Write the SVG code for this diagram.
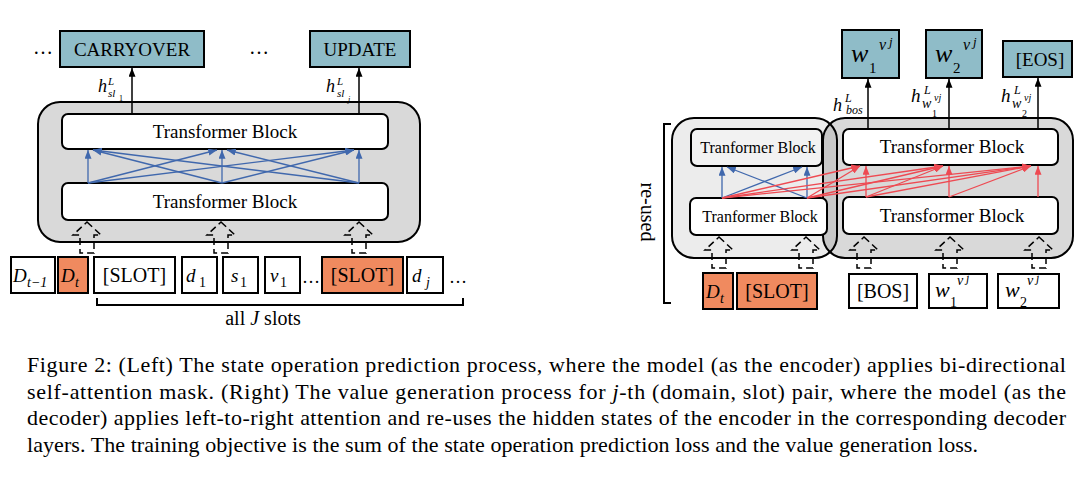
<svg xmlns="http://www.w3.org/2000/svg" width="1081" height="481" viewBox="0 0 1081 481">
<style>
text{font-family:"Liberation Serif","Times New Roman",serif;fill:#000}
.i{font-style:italic}
.mid{text-anchor:middle}
.teal{fill:#8fbcc8;stroke:#000;stroke-width:2}
.or{fill:#f08a5f;stroke:#000;stroke-width:2}
.wh{fill:#fff;stroke:#000;stroke-width:2}
.bl{stroke:#4068ad;stroke-width:1.3;fill:none;marker-end:url(#ab)}
.rd{stroke:#ee4a52;stroke-width:1.3;fill:none;marker-end:url(#ar)}
.up{stroke:#000;stroke-width:1.5;fill:none;marker-end:url(#ak)}
.hol{fill:none;stroke:#000;stroke-width:1.5;stroke-dasharray:7 4}
.cap{font-size:22px}
</style>
<defs>
<marker id="ab" viewBox="0 0 10 8" refX="10" refY="4" markerWidth="9" markerHeight="7" markerUnits="userSpaceOnUse" orient="auto"><path d="M0,0L10,4L0,8z" fill="#4068ad"/></marker>
<marker id="ar" viewBox="0 0 10 8" refX="10" refY="4" markerWidth="9" markerHeight="7" markerUnits="userSpaceOnUse" orient="auto"><path d="M0,0L10,4L0,8z" fill="#ee4a52"/></marker>
<marker id="ak" viewBox="0 0 10 8" refX="10" refY="4" markerWidth="9" markerHeight="7" markerUnits="userSpaceOnUse" orient="auto"><path d="M0,0L10,4L0,8z" fill="#000"/></marker>
<path id="hollow" d="M0,0L14,13L7,13L7,31L-7,31L-7,13L-14,13Z"/>
</defs>

<!-- ===== LEFT ===== -->
<g id="left-encoder">
<rect x="38" y="102" width="382" height="140" rx="22" fill="#d9d9d9" stroke="#000" stroke-width="2"/>
</g>
<g id="left-top-block">
<rect x="62" y="114" width="326" height="35" rx="6" class="wh"/>
<text x="225" y="138" class="mid" font-size="19">Transformer Block</text>
</g>
<g id="left-bottom-block">
<rect x="62" y="183" width="326" height="37" rx="6" class="wh"/>
<text x="225" y="208" class="mid" font-size="19">Transformer Block</text>
</g>

<g id="carryover">
<rect x="60" y="31" width="144" height="36" class="teal"/>
<text x="132" y="56" class="mid" font-size="19">CARRYOVER</text>
</g>
<g id="update">
<rect x="310" y="31" width="100" height="36" class="teal"/>
<text x="360" y="56" class="mid" font-size="19">UPDATE</text>
</g>
<text x="43" y="54" class="mid" font-size="20">…</text>
<text x="259" y="54" class="mid" font-size="20">…</text>

<g id="label-hsl1">
<text class="i"><tspan x="98" y="92" font-size="18">h</tspan><tspan x="108" y="85" font-size="11">L</tspan><tspan x="108" y="97" font-size="11">sl</tspan><tspan x="119" y="101" font-size="8" font-style="normal">1</tspan></text>
</g>
<g id="label-hslj">
<text class="i"><tspan x="326" y="92" font-size="18">h</tspan><tspan x="337" y="85" font-size="11">L</tspan><tspan x="337" y="97" font-size="11">sl</tspan><tspan x="348" y="102" font-size="8">j</tspan></text>
</g>

<!-- left tokens -->
<g id="tok-dt1">
<rect x="11" y="257" width="44" height="36" class="wh"/>
<text class="i"><tspan x="13" y="282" font-size="19">D</tspan><tspan x="27" y="287" font-size="14">t−1</tspan></text>
</g>
<g id="tok-dt">
<rect x="58" y="257" width="30" height="36" class="or"/>
<text class="i"><tspan x="61" y="282" font-size="19">D</tspan><tspan x="75" y="287" font-size="14">t</tspan></text>
</g>
<g id="tok-slot1">
<rect x="94" y="257" width="81" height="36" class="wh"/>
<text x="134.5" y="282" class="mid" font-size="20">[SLOT]</text>
</g>
<g id="tok-d1">
<rect x="182" y="257" width="35" height="36" class="wh"/>
<text><tspan x="186" y="282" font-size="19" class="i">d</tspan><tspan x="199" y="287" font-size="14">1</tspan></text>
</g>
<g id="tok-s1">
<rect x="223" y="257" width="35" height="36" class="wh"/>
<text><tspan x="231" y="282" font-size="19" class="i">s</tspan><tspan x="240" y="287" font-size="14">1</tspan></text>
</g>
<g id="tok-v1">
<rect x="265" y="257" width="35" height="36" class="wh"/>
<text><tspan x="270" y="282" font-size="19" class="i">v</tspan><tspan x="280" y="287" font-size="14">1</tspan></text>
</g>
<text x="311" y="283" class="mid" font-size="18">…</text>
<g id="tok-slotj">
<rect x="322" y="257" width="81" height="36" class="or"/>
<text x="362.5" y="282" class="mid" font-size="20">[SLOT]</text>
</g>
<g id="tok-dj">
<rect x="407" y="257" width="36" height="36" class="wh"/>
<text class="i"><tspan x="412" y="282" font-size="19">d</tspan><tspan x="426" y="287" font-size="14">j</tspan></text>
</g>
<text x="458" y="283" class="mid" font-size="18">…</text>
<g id="all-slots">
<path d="M97,298V305H463V298" fill="none" stroke="#000" stroke-width="2"/>
<text x="263" y="325" class="mid" font-size="20">all <tspan class="i">J</tspan> slots</text>
</g>

<!-- ===== RIGHT ===== -->
<g id="reused">
<path d="M671,124H664V303H671" fill="none" stroke="#000" stroke-width="2"/>
<text transform="translate(648,212) rotate(90)" class="mid" dominant-baseline="central" font-size="20">re-used</text>
</g>
<g id="encoder">
<rect x="672" y="118" width="165" height="140" rx="22" fill="#ececec" stroke="#000" stroke-width="2"/>
</g>
<g id="decoder">
<rect x="823" y="118" width="250" height="140" rx="22" fill="#000" fill-opacity="0.15" stroke="#000" stroke-width="2"/>
</g>
<g id="enc-top-block">
<rect x="691" y="129" width="131" height="37" rx="6" fill="#f2f2f2" stroke="#000" stroke-width="2"/>
<text x="758" y="153" class="mid" font-size="16">Tranformer Block</text>
</g>
<g id="enc-bottom-block">
<rect x="690" y="198" width="137" height="37" rx="6" class="wh"/>
<text x="760" y="222" class="mid" font-size="16">Tranformer Block</text>
</g>
<g id="dec-top-block">
<rect x="843" y="129" width="215" height="36" rx="6" class="wh"/>
<text x="952" y="153" class="mid" font-size="19">Transformer Block</text>
</g>
<g id="dec-bottom-block">
<rect x="843" y="197" width="215" height="37" rx="6" class="wh"/>
<text x="952" y="222" class="mid" font-size="19">Transformer Block</text>
</g>

<g id="out-w1">
<rect x="842" y="30" width="57" height="48" class="teal"/>
<text class="i"><tspan x="851" y="62" font-size="26">w</tspan><tspan x="869" y="73" font-size="15" font-style="normal">1</tspan><tspan x="879" y="50" font-size="16">v</tspan><tspan x="889" y="46" font-size="13">j</tspan></text>
</g>
<g id="out-w2">
<rect x="926" y="30" width="56" height="48" class="teal"/>
<text class="i"><tspan x="935" y="62" font-size="26">w</tspan><tspan x="953" y="73" font-size="15" font-style="normal">2</tspan><tspan x="963" y="50" font-size="16">v</tspan><tspan x="973" y="46" font-size="13">j</tspan></text>
</g>
<g id="out-eos">
<rect x="1003" y="41" width="69" height="36" class="teal"/>
<text x="1040" y="66" class="mid" font-size="19">[EOS]</text>
</g>

<g id="label-hbos">
<text class="i"><tspan x="833" y="111" font-size="18">h</tspan><tspan x="845" y="102" font-size="12">L</tspan><tspan x="846" y="114" font-size="12">bos</tspan></text>
</g>
<g id="label-hw1">
<text class="i"><tspan x="911" y="102" font-size="19">h</tspan><tspan x="924" y="94" font-size="12">L</tspan><tspan x="922" y="108" font-size="14">w</tspan><tspan x="934" y="101" font-size="10">vj</tspan><tspan x="932" y="117" font-size="10" font-style="normal">1</tspan></text>
</g>
<g id="label-hw2">
<text class="i"><tspan x="1001" y="102" font-size="19">h</tspan><tspan x="1014" y="94" font-size="12">L</tspan><tspan x="1012" y="108" font-size="14">w</tspan><tspan x="1024" y="101" font-size="10">vj</tspan><tspan x="1022" y="117" font-size="10" font-style="normal">2</tspan></text>
</g>

<!-- right tokens -->
<g id="rtok-dt">
<rect x="703" y="273" width="30" height="36" class="or"/>
<text class="i"><tspan x="706" y="298" font-size="19">D</tspan><tspan x="720" y="303" font-size="14">t</tspan></text>
</g>
<g id="rtok-slot">
<rect x="737" y="273" width="80" height="36" class="or"/>
<text x="777" y="298" class="mid" font-size="20">[SLOT]</text>
</g>
<g id="rtok-bos">
<rect x="849" y="274" width="68" height="34" class="wh"/>
<text x="883" y="298" class="mid" font-size="20">[BOS]</text>
</g>
<g id="rtok-w1">
<rect x="929" y="274" width="58" height="34" class="wh"/>
<text class="i"><tspan x="935" y="297" font-size="22">w</tspan><tspan x="950" y="307" font-size="14" font-style="normal">1</tspan><tspan x="957" y="285" font-size="14">v</tspan><tspan x="966" y="282" font-size="12">j</tspan></text>
</g>
<g id="rtok-w2">
<rect x="998" y="274" width="61" height="34" class="wh"/>
<text class="i"><tspan x="1005" y="297" font-size="22">w</tspan><tspan x="1020" y="307" font-size="14" font-style="normal">2</tspan><tspan x="1027" y="285" font-size="14">v</tspan><tspan x="1036" y="282" font-size="12">j</tspan></text>
</g>

<!-- ===== CONNECTORS ===== -->
<g id="connectors">
<line x1="132" y1="114" x2="132" y2="68" class="up"/>
<line x1="359" y1="114" x2="359" y2="68" class="up"/>
<line x1="88" y1="183" x2="88" y2="150" class="bl"/>
<line x1="222" y1="183" x2="222" y2="150" class="bl"/>
<line x1="359" y1="183" x2="359" y2="150" class="bl"/>
<line x1="88" y1="183" x2="217" y2="150" class="bl"/>
<line x1="88" y1="183" x2="354" y2="150" class="bl"/>
<line x1="222" y1="183" x2="93" y2="150" class="bl"/>
<line x1="222" y1="183" x2="354" y2="150" class="bl"/>
<line x1="359" y1="183" x2="93" y2="150" class="bl"/>
<line x1="359" y1="183" x2="227" y2="150" class="bl"/>
<use href="#hollow" x="87" y="222" class="hol"/>
<use href="#hollow" x="221" y="222" class="hol"/>
<use href="#hollow" x="359" y="222" class="hol"/>

<line x1="868" y1="129" x2="868" y2="79" class="up"/>
<line x1="949" y1="129" x2="949" y2="79" class="up"/>
<line x1="1038" y1="129" x2="1038" y2="78" class="up"/>
<line x1="722" y1="198" x2="722" y2="167" class="bl"/>
<line x1="807" y1="198" x2="807" y2="167" class="bl"/>
<line x1="722" y1="198" x2="802" y2="167" class="bl"/>
<line x1="807" y1="198" x2="727" y2="167" class="bl"/>
<line x1="722" y1="198" x2="860" y2="166" class="rd"/>
<line x1="722" y1="198" x2="943" y2="166" class="rd"/>
<line x1="722" y1="198" x2="1031" y2="166" class="rd"/>
<line x1="807" y1="198" x2="860" y2="166" class="rd"/>
<line x1="807" y1="198" x2="943" y2="166" class="rd"/>
<line x1="807" y1="198" x2="1031" y2="166" class="rd"/>
<line x1="866" y1="197" x2="866" y2="166" class="rd"/>
<line x1="949" y1="197" x2="949" y2="166" class="rd"/>
<line x1="1038" y1="197" x2="1038" y2="166" class="rd"/>
<line x1="866" y1="197" x2="943" y2="166" class="rd"/>
<line x1="866" y1="197" x2="1031" y2="166" class="rd"/>
<line x1="949" y1="197" x2="1031" y2="166" class="rd"/>
<use href="#hollow" x="719" y="237" class="hol"/>
<use href="#hollow" x="806" y="237" class="hol"/>
<use href="#hollow" x="864" y="237" class="hol"/>
<use href="#hollow" x="950" y="237" class="hol"/>
<use href="#hollow" x="1039" y="237" class="hol"/>
</g>

<!-- ===== CAPTION ===== -->
<g id="caption">
<text x="27" y="372" class="cap" textLength="1039">Figure 2:  (Left) The state operation prediction process, where the model (as the encoder) applies bi-directional</text>
<text x="27" y="398.5" class="cap" textLength="1039">self-attention mask.  (Right) The value generation process for <tspan class="i">j</tspan>-th (domain, slot) pair, where the model (as the</text>
<text x="27" y="425" class="cap" textLength="1039">decoder) applies left-to-right attention and re-uses the hidden states of the encoder in the corresponding decoder</text>
<text x="27" y="451.5" class="cap" textLength="951">layers. The training objective is the sum of the state operation prediction loss and the value generation loss.</text>
</g>
</svg>
